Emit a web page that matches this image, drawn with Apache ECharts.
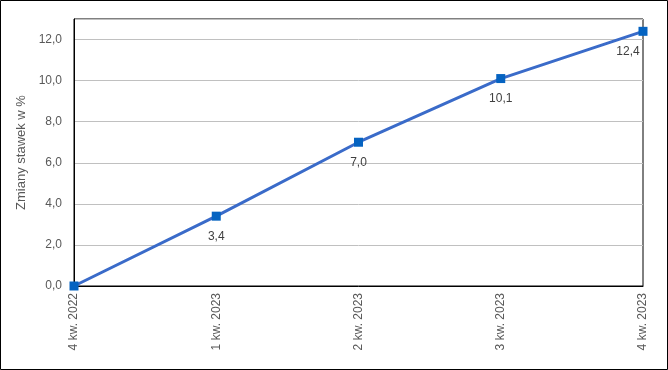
<!DOCTYPE html>
<html><head><meta charset="utf-8">
<script src="https://cdn.jsdelivr.net/npm/echarts@6/dist/echarts.min.js"></script>
<style>html,body{margin:0;padding:0;background:#fff}#c{width:668px;height:370px}</style>
</head><body><div id="c"></div>
<script>
const categories = ['4 kw. 2022', '1 kw. 2023', '2 kw. 2023', '3 kw. 2023', '4 kw. 2023'];
const values = [0, 3.4, 7.0, 10.1, 12.4];
const yAxisName = 'Zmiany stawek w %';
const fmt = v => Number(v).toFixed(1).replace('.', ',');
const font = '"Liberation Sans", Arial, sans-serif';

const seriesData = values.map((v, i) => {
  const d = { value: v };
  if (i === 0) d.label = { show: false };
  if (i === values.length - 1) d.label = { offset: [-15, 0] };
  return d;
});

const chart = echarts.init(document.getElementById('c'), null, { renderer: 'canvas' });
chart.setOption({
  animation: false,
  backgroundColor: '#fff',
  graphic: [{
    type: 'rect', shape: { x: 0.5, y: 0.5, width: 667, height: 369 },
    style: { fill: 'none', stroke: '#000', lineWidth: 1 }, z: 100, silent: true
  }],
  grid: { left: 74, right: 25, top: 19, bottom: 84, show: true, borderColor: '#000', borderWidth: 1, containLabel: false },
  xAxis: {
    type: 'category', data: categories, boundaryGap: false,
    axisLine: { show: true, lineStyle: { color: '#000', width: 1 } },
    axisTick: { show: false },
    axisLabel: { rotate: 90, margin: 7, color: '#595959', fontSize: 12, fontFamily: font }
  },
  yAxis: {
    type: 'value', min: 0, max: 13, interval: 2,
    name: yAxisName, nameLocation: 'middle', nameGap: 43, nameRotate: 90,
    nameTextStyle: { color: '#595959', fontSize: 13, fontFamily: font },
    axisLine: { show: true, lineStyle: { color: '#000' } },
    axisTick: { show: false },
    axisLabel: { margin: 12, color: '#595959', fontSize: 12, fontFamily: font, showMaxLabel: false,
      formatter: v => (v > 12 ? '' : fmt(v)) },
    splitLine: { lineStyle: { color: '#c0c0c0', width: 1 } }
  },
  series: [{
    type: 'line', data: seriesData,
    lineStyle: { color: '#3a6bc9', width: 3 },
    symbol: 'rect', symbolSize: 9,
    itemStyle: { color: '#0563c1' },
    label: { show: true, position: 'bottom', distance: 10, color: '#404040', fontSize: 12, fontFamily: font,
      formatter: p => fmt(p.value) }
  }]
});
</script></body></html>
